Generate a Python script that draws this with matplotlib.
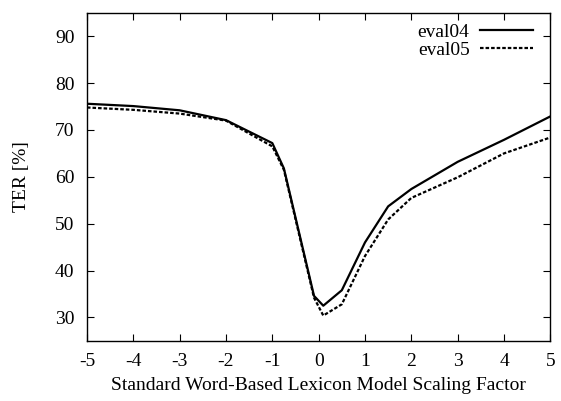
import matplotlib
matplotlib.use("Agg")
import matplotlib.pyplot as plt

plt.rcParams['font.family'] = ['Liberation Serif', 'DejaVu Serif']
plt.rcParams['axes.unicode_minus'] = False

# scaling factor values
x = [-5, -4, -3, -2, -1, -0.75, -0.1, 0.1, 0.5, 1, 1.5, 2, 3, 4, 5]
eval04 = [75.6, 75.1, 74.2, 72.1, 67.2, 61.8, 34.6, 32.5, 35.8, 46.0, 53.7, 57.4, 63.2, 67.9, 72.9]
eval05 = [74.8, 74.3, 73.5, 72.0, 66.5, 61.5, 34.2, 30.4, 32.8, 43.1, 50.9, 55.5, 59.9, 65.0, 68.4]

fig = plt.figure(figsize=(5.61, 4.01), dpi=100)
ax = fig.add_axes([0.155, 0.150, 0.826, 0.818])

ax.plot(x, eval04, color='black', lw=1.6, label='eval04')
ax.plot(x, eval05, color='black', lw=1.6, dashes=(1.6, 0.9), label='eval05')

ax.set_xlim(-5, 5)
ax.set_ylim(25, 95)
ax.set_xticks(range(-5, 6))
ax.set_yticks(range(30, 100, 10))
ax.tick_params(direction='in', top=True, right=True, length=5, labelsize=14)
ax.tick_params(axis='y', pad=9)
ax.tick_params(axis='x', pad=9)
for s in ax.spines.values():
    s.set_linewidth(1.0)

ax.set_xlabel("Standard Word-Based Lexicon Model Scaling Factor", fontsize=14, labelpad=5)
ax.set_ylabel("TER [%]", fontsize=14, labelpad=18)

ax.legend(loc='upper right', frameon=False, fontsize=14, markerfirst=False,
          handlelength=2.7, handletextpad=0.55, labelspacing=0.0,
          borderaxespad=0.2, borderpad=0.35, bbox_to_anchor=(0.985, 1.0))

fig.savefig("out.png", dpi=100)
